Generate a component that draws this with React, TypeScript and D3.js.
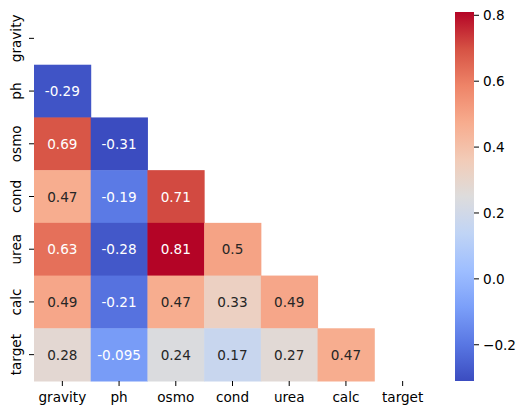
import React, { useEffect, useRef } from 'react';
import * as d3 from 'd3';

const features = ['gravity', 'ph', 'osmo', 'cond', 'urea', 'calc', 'target'];

// lower triangle of the correlation matrix, one row per feature (diagonal masked)
const corrRows: number[][] = [
  [],
  [-0.29],
  [0.69, -0.31],
  [0.47, -0.19, 0.71],
  [0.63, -0.28, 0.81, 0.5],
  [0.49, -0.21, 0.47, 0.33, 0.49],
  [0.28, -0.095, 0.24, 0.17, 0.27, 0.47],
];

const colorbarTicks = [-0.2, 0.0, 0.2, 0.4, 0.6, 0.8];

// matplotlib "coolwarm" sampled at 11 evenly spaced points
const coolwarm = ['#3b4cc0', '#5977e3', '#7b9ff9', '#9ebeff', '#c0d4f5', '#dddcdc',
  '#f2cbb7', '#f7ac8e', '#ee8468', '#d65244', '#b40426'];

const W = 527;
const H = 415;
const FONT = 'DejaVu Sans, sans-serif';
const FS = 13.6;

const luminance = (c: string) => {
  const rgb = d3.rgb(c);
  const lin = (v: number) => {
    const s = v / 255;
    return s <= 0.03928 ? s / 12.92 : Math.pow((s + 0.055) / 1.055, 2.4);
  };
  return 0.2126 * lin(rgb.r) + 0.7152 * lin(rgb.g) + 0.0722 * lin(rgb.b);
};

// python-style ".2g": trailing zeros dropped, plain hyphen for negatives
const annotFmt = (v: number) => d3.format('.2~g')(v).replace('\u2212', '-');

const App = () => {
  const svgRef = useRef<SVGSVGElement>(null);

  useEffect(() => {
    const svg = d3.select(svgRef.current);
    svg.selectAll('*').remove();

    const cells = corrRows.flatMap((row, i) =>
      row.map((v, j) => ({ row: features[i], col: features[j], value: v })));

    const [vmin, vmax] = d3.extent(cells, d => d.value) as [number, number];

    const cmap = d3.scaleLinear<string>()
      .domain(d3.range(coolwarm.length).map(i => i / (coolwarm.length - 1)))
      .range(coolwarm)
      .interpolate(d3.interpolateRgb);
    const norm = d3.scaleLinear().domain([vmin, vmax]).range([0, 1]).clamp(true);
    const color = (v: number) => cmap(norm(v));

    const x = d3.scaleBand().domain(features).range([34, 431]);
    const y = d3.scaleBand().domain(features).range([12, 381]);

    const g = svg.append('g');

    g.selectAll('rect.cell')
      .data(cells)
      .join('rect')
      .attr('class', 'cell')
      .attr('x', d => x(d.col)!)
      .attr('y', d => y(d.row)!)
      .attr('width', x.bandwidth() + 0.5)
      .attr('height', y.bandwidth() + 0.5)
      .attr('fill', d => color(d.value));

    g.selectAll('text.annot')
      .data(cells)
      .join('text')
      .attr('class', 'annot')
      .attr('x', d => x(d.col)! + x.bandwidth() / 2)
      .attr('y', d => y(d.row)! + y.bandwidth() / 2)
      .attr('text-anchor', 'middle')
      .attr('dominant-baseline', 'central')
      .attr('font-family', FONT)
      .attr('font-size', FS)
      .attr('fill', d => (luminance(color(d.value)) > 0.408 ? '#262626' : '#ffffff'))
      .text(d => annotFmt(d.value));

    // x ticks
    const xt = g.append('g');
    features.forEach(f => {
      const cx = x(f)! + x.bandwidth() / 2;
      xt.append('line').attr('x1', cx).attr('x2', cx).attr('y1', 381).attr('y2', 386)
        .attr('stroke', '#000').attr('stroke-width', 1);
      xt.append('text').attr('x', cx).attr('y', 402).attr('text-anchor', 'middle')
        .attr('font-family', FONT).attr('font-size', FS).attr('fill', '#000').text(f);
    });

    // y ticks, labels rotated
    const yt = g.append('g');
    features.forEach(f => {
      const cy = y(f)! + y.bandwidth() / 2;
      yt.append('line').attr('x1', 29).attr('x2', 34).attr('y1', cy).attr('y2', cy)
        .attr('stroke', '#000').attr('stroke-width', 1);
      yt.append('text').attr('transform', `translate(21,${cy}) rotate(-90)`)
        .attr('text-anchor', 'middle')
        .attr('font-family', FONT).attr('font-size', FS).attr('fill', '#000').text(f);
    });

    // colorbar
    const cbX = 455;
    const cbW = 19;
    const cy = d3.scaleLinear().domain([vmin, vmax]).range([381, 12]);
    const grad = svg.append('defs').append('linearGradient')
      .attr('id', 'cbgrad').attr('x1', 0).attr('x2', 0).attr('y1', 1).attr('y2', 0);
    d3.range(0, 1.0001, 0.05).forEach(t => {
      grad.append('stop').attr('offset', t).attr('stop-color', cmap(t));
    });
    g.append('rect').attr('x', cbX).attr('y', 12).attr('width', cbW).attr('height', 369)
      .attr('fill', 'url(#cbgrad)');

    const fmt = (v: number) => d3.format('.1f')(v).replace('-', '\u2212');
    colorbarTicks.forEach(t => {
      const ty = cy(t);
      g.append('line').attr('x1', cbX + cbW).attr('x2', cbX + cbW + 5).attr('y1', ty).attr('y2', ty)
        .attr('stroke', '#000').attr('stroke-width', 1);
      g.append('text').attr('x', cbX + cbW + 9).attr('y', ty).attr('dominant-baseline', 'central')
        .attr('font-family', FONT).attr('font-size', FS).attr('fill', '#000').text(fmt(t));
    });
  }, []);

  return (
    <div style={{ position: 'absolute', left: 0, top: 0 }}>
      <svg ref={svgRef} width={W} height={H} style={{ display: 'block', background: '#fff' }} />
    </div>
  );
};

export default App;
